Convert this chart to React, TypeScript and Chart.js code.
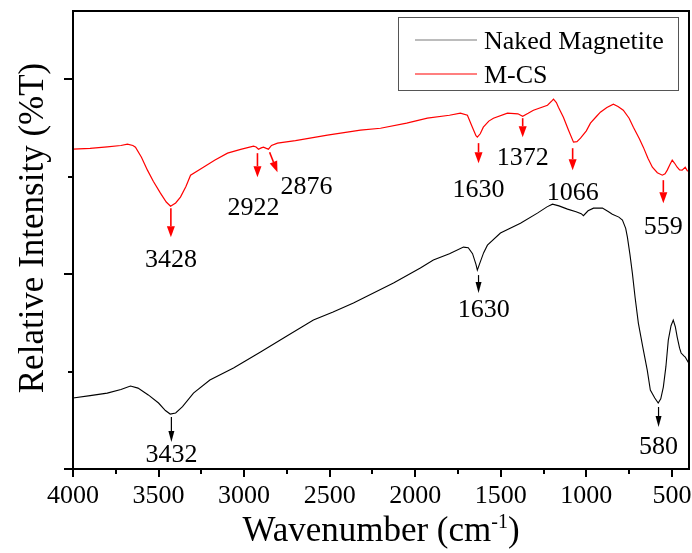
import React, { useEffect, useRef } from "react";
import { Chart, registerables } from "chart.js";
Chart.register(...registerables);

// ---- axis ticks ----
const xMajorTicks = [4000, 3500, 3000, 2500, 2000, 1500, 1000, 500];
const xMinorTicks = [3750, 3250, 2750, 2250, 1750, 1250, 750];
const yMajorTicks = [0, 2, 4];
const yMinorTicks = [1, 3];

// ---- series: Naked Magnetite ----
const nakedWavenumber = [
  4000, 3900, 3800, 3720, 3664, 3620, 3560, 3500, 3460, 3432, 3400, 3360, 3296, 3200, 3062, 2904,
  2750, 2595, 2480, 2361, 2250, 2127, 1970, 1894, 1800, 1718, 1690, 1665, 1645, 1637, 1625, 1600,
  1578, 1502, 1385, 1286, 1230, 1198, 1160, 1110, 1060, 1030, 1017, 990, 958, 906, 870, 848, 810,
  789, 770, 760, 745, 731, 715, 696, 670, 644, 626, 600, 580, 565, 550, 535, 521, 505, 492, 480,
  469, 455, 446, 430, 422, 405, 400,
];
const nakedIntensity = [
  0.728, 0.753, 0.779, 0.815, 0.851, 0.83, 0.76, 0.677, 0.6, 0.564, 0.575, 0.64, 0.779, 0.913, 1.036,
  1.2, 1.365, 1.528, 1.61, 1.703, 1.8, 1.908, 2.062, 2.144, 2.21, 2.277, 2.27, 2.21, 2.1, 2.041, 2.1,
  2.22, 2.297, 2.421, 2.523, 2.626, 2.69, 2.718, 2.7, 2.667, 2.64, 2.62, 2.6, 2.65, 2.677, 2.677,
  2.64, 2.615, 2.585, 2.554, 2.47, 2.379, 2.2, 2.01, 1.76, 1.497, 1.25, 1.015, 0.81, 0.728, 0.677,
  0.72, 0.841, 1.05, 1.323, 1.47, 1.528, 1.46, 1.354, 1.24, 1.19, 1.16, 1.149, 1.097, 1.087,
];

// ---- series: M-CS ----
const mcsWavenumber = [
  4000, 3900, 3800, 3720, 3682, 3650, 3635, 3600, 3565, 3530, 3489, 3455, 3430, 3400, 3372, 3340,
  3313, 3238, 3170, 3097, 3020, 2945, 2930, 2916, 2900, 2887, 2870, 2858, 2840, 2805, 2700, 2513,
  2320, 2203, 2050, 1929, 1800, 1736, 1695, 1666, 1645, 1637, 1620, 1602, 1570, 1543, 1461, 1400,
  1372, 1340, 1309, 1227, 1200, 1192, 1175, 1163, 1134, 1104, 1075, 1055, 1034, 1000, 976, 940,
  918, 880, 842, 815, 784, 750, 725, 690, 667, 640, 614, 585, 556, 540, 527, 510, 498, 485, 469,
  455, 440, 422, 410, 400,
];
const mcsIntensity = [
  3.282, 3.29, 3.305, 3.32, 3.333, 3.32, 3.303, 3.2, 3.067, 2.95, 2.831, 2.74, 2.697, 2.73, 2.79,
  2.9, 3.015, 3.097, 3.17, 3.241, 3.28, 3.313, 3.305, 3.282, 3.295, 3.303, 3.29, 3.282, 3.32, 3.344,
  3.37, 3.426, 3.477, 3.497, 3.55, 3.6, 3.63, 3.651, 3.631, 3.508, 3.42, 3.405, 3.44, 3.508, 3.57,
  3.6, 3.651, 3.645, 3.62, 3.65, 3.682, 3.733, 3.78, 3.795, 3.76, 3.713, 3.61, 3.477, 3.354, 3.36,
  3.395, 3.47, 3.549, 3.62, 3.662, 3.71, 3.744, 3.72, 3.682, 3.6, 3.508, 3.39, 3.303, 3.19, 3.097,
  3.04, 3.015, 3.03, 3.067, 3.13, 3.169, 3.14, 3.097, 3.07, 3.067, 3.097, 3.06, 3.056,
];

// ---- peak annotations ----
const peakLabels = ["3428", "2922", "2876", "1630", "1372", "1066", "559", "3432", "1630", "580"];
const peakColors = ["#ff0000", "#ff0000", "#ff0000", "#ff0000", "#ff0000", "#ff0000", "#ff0000", "#000000", "#000000", "#000000"];
const peakArrowX0 = [3428, 2922, 2851, 1630, 1372, 1080, 550, 3425, 1630, 578];
const peakArrowY0 = [2.677, 3.241, 3.251, 3.344, 3.6, 3.292, 2.964, 0.533, 1.99, 0.636];
const peakArrowX1 = [3428, 2922, 2805, 1630, 1372, 1080, 550, 3425, 1630, 578];
const peakArrowY1 = [2.379, 2.995, 3.046, 3.138, 3.405, 3.067, 2.728, 0.277, 1.805, 0.431];
const peakTextX = [3428, 2945, 2636, 1630, 1372, 1080, 550, 3425, 1600, 578];
const peakTextY = [2.144, 2.677, 2.892, 2.862, 3.19, 2.831, 2.482, 0.144, 1.631, 0.226];

const seriesNames = ["Naked Magnetite", "M-CS"];
const seriesColors = ["#000000", "#ff0000"];
const legendLineColors = ["#7a7a7a", "#ff0000"];

const SERIF = '"Liberation Serif", "Times New Roman", Times, "DejaVu Serif", serif';

const decorPlugin = {
  id: "decor",
  afterDraw(chart: any) {
    const ctx = chart.ctx as CanvasRenderingContext2D;
    const xs = chart.scales.x;
    const ys = chart.scales.y;
    const a = chart.chartArea;
    ctx.save();

    // frame
    ctx.strokeStyle = "#000";
    ctx.lineWidth = 2;
    ctx.strokeRect(a.left, a.top, a.right - a.left, a.bottom - a.top);

    // ticks (outward)
    ctx.lineWidth = 2;
    ctx.beginPath();
    xMajorTicks.forEach((v) => {
      const px = Math.round(xs.getPixelForValue(v));
      ctx.moveTo(px, a.bottom);
      ctx.lineTo(px, a.bottom + 8);
    });
    xMinorTicks.forEach((v) => {
      const px = Math.round(xs.getPixelForValue(v));
      ctx.moveTo(px, a.bottom);
      ctx.lineTo(px, a.bottom + 5);
    });
    yMajorTicks.forEach((v) => {
      const py = Math.round(ys.getPixelForValue(v));
      ctx.moveTo(a.left, py);
      ctx.lineTo(a.left - 9, py);
    });
    yMinorTicks.forEach((v) => {
      const py = Math.round(ys.getPixelForValue(v));
      ctx.moveTo(a.left, py);
      ctx.lineTo(a.left - 5, py);
    });
    ctx.stroke();

    // peak arrows and labels
    for (let i = 0; i < peakLabels.length; i++) {
      const color = peakColors[i];
      const x0 = xs.getPixelForValue(peakArrowX0[i]);
      const y0 = ys.getPixelForValue(peakArrowY0[i]);
      const x1 = xs.getPixelForValue(peakArrowX1[i]);
      const y1 = ys.getPixelForValue(peakArrowY1[i]);
      const ang = Math.atan2(y1 - y0, x1 - x0);
      const headLen = 11;
      const headW = color === "#000000" ? 3 : 4;
      const bx = x1 - headLen * Math.cos(ang);
      const by = y1 - headLen * Math.sin(ang);
      ctx.strokeStyle = color;
      ctx.fillStyle = color;
      ctx.lineWidth = color === "#000000" ? 1.2 : 1.6;
      ctx.beginPath();
      ctx.moveTo(x0, y0);
      ctx.lineTo(bx, by);
      ctx.stroke();
      ctx.beginPath();
      ctx.moveTo(x1, y1);
      ctx.lineTo(bx + headW * Math.sin(ang), by - headW * Math.cos(ang));
      ctx.lineTo(bx - headW * Math.sin(ang), by + headW * Math.cos(ang));
      ctx.closePath();
      ctx.fill();

      ctx.fillStyle = "#000";
      ctx.font = `26px ${SERIF}`;
      ctx.textAlign = "center";
      ctx.textBaseline = "middle";
      ctx.fillText(peakLabels[i], xs.getPixelForValue(peakTextX[i]), ys.getPixelForValue(peakTextY[i]));
    }

    // legend box
    const lx = a.right - 291;
    const ly = a.top + 6;
    ctx.strokeStyle = "#555";
    ctx.lineWidth = 1;
    ctx.strokeRect(lx + 0.5, ly + 0.5, 280, 73);
    ctx.font = `26px ${SERIF}`;
    ctx.textAlign = "left";
    ctx.textBaseline = "alphabetic";
    for (let i = 0; i < seriesNames.length; i++) {
      const yy = ly + 23 + i * 34;
      ctx.strokeStyle = legendLineColors[i];
      ctx.lineWidth = 1.2;
      ctx.beginPath();
      ctx.moveTo(lx + 17, yy);
      ctx.lineTo(lx + 79, yy);
      ctx.stroke();
      ctx.fillStyle = "#000";
      ctx.fillText(seriesNames[i], lx + 86, yy + 9);
    }

    // x axis title with superscript
    ctx.fillStyle = "#000";
    const mainFont = `35px ${SERIF}`;
    const supFont = `20px ${SERIF}`;
    const part1 = "Wavenumber (cm";
    const sup = "-1";
    const part3 = ")";
    ctx.font = mainFont;
    const w1 = ctx.measureText(part1).width;
    const w3 = ctx.measureText(part3).width;
    ctx.font = supFont;
    const w2 = ctx.measureText(sup).width;
    const total = w1 + w2 + w3;
    const cx = (a.left + a.right) / 2;
    const baseY = a.bottom + 72;
    let sx = cx - total / 2;
    ctx.textAlign = "left";
    ctx.textBaseline = "alphabetic";
    ctx.font = mainFont;
    ctx.fillText(part1, sx, baseY);
    sx += w1;
    ctx.font = supFont;
    ctx.fillText(sup, sx, baseY - 13);
    sx += w2;
    ctx.font = mainFont;
    ctx.fillText(part3, sx, baseY);

    // y axis title
    ctx.save();
    ctx.translate(a.left - 30, (a.top + a.bottom) / 2 - 12);
    ctx.rotate(-Math.PI / 2);
    ctx.font = mainFont;
    ctx.textAlign = "center";
    ctx.textBaseline = "alphabetic";
    ctx.fillText("Relative Intensity (%T)", 0, 0);
    ctx.restore();

    ctx.restore();
  },
};

export default function App() {
  const canvasRef = useRef<HTMLCanvasElement | null>(null);
  useEffect(() => {
    document.body.style.margin = "0";
    const canvas = canvasRef.current;
    if (!canvas) return;
    const makeData = (xs: number[], ys: number[]) => xs.map((x, i) => ({ x, y: ys[i] }));
    const chart = new Chart(canvas, {
      type: "line",
      data: {
        datasets: [
          {
            label: seriesNames[0],
            data: makeData(nakedWavenumber, nakedIntensity),
            borderColor: seriesColors[0],
            borderWidth: 1.1,
            pointRadius: 0,
            tension: 0,
            fill: false,
          },
          {
            label: seriesNames[1],
            data: makeData(mcsWavenumber, mcsIntensity),
            borderColor: seriesColors[1],
            borderWidth: 1.2,
            pointRadius: 0,
            tension: 0,
            fill: false,
          },
        ],
      },
      options: {
        animation: false,
        responsive: false,
        devicePixelRatio: 1,
        layout: { padding: { top: 11, right: 3, left: 0, bottom: 0 } },
        plugins: { legend: { display: false }, tooltip: { enabled: false } },
        scales: {
          x: {
            type: "linear",
            reverse: true,
            min: 400,
            max: 4000,
            grid: { display: false, drawTicks: false },
            border: { display: false },
            afterBuildTicks: (scale: any) => {
              scale.ticks = xMajorTicks.map((v) => ({ value: v }));
            },
            afterFit: (scale: any) => {
              scale.height = 84;
              scale.paddingLeft = 0;
              scale.paddingRight = 0;
            },
            ticks: {
              color: "#000",
              font: { family: SERIF, size: 26 },
              padding: 12,
              maxRotation: 0,
              autoSkip: false,
              callback: (v: any) => String(v),
            },
          },
          y: {
            type: "linear",
            min: 0,
            max: 4.7,
            grid: { display: false, drawTicks: false },
            border: { display: false },
            ticks: { display: false },
            afterFit: (scale: any) => {
              scale.width = 73;
              scale.paddingTop = 0;
              scale.paddingBottom = 0;
            },
          },
        },
      },
      plugins: [decorPlugin],
    });
    return () => chart.destroy();
  }, []);
  return (
    <div style={{ width: 692, height: 553 }}>
      <canvas ref={canvasRef} width={692} height={553} style={{ display: "block" }} />
    </div>
  );
}
